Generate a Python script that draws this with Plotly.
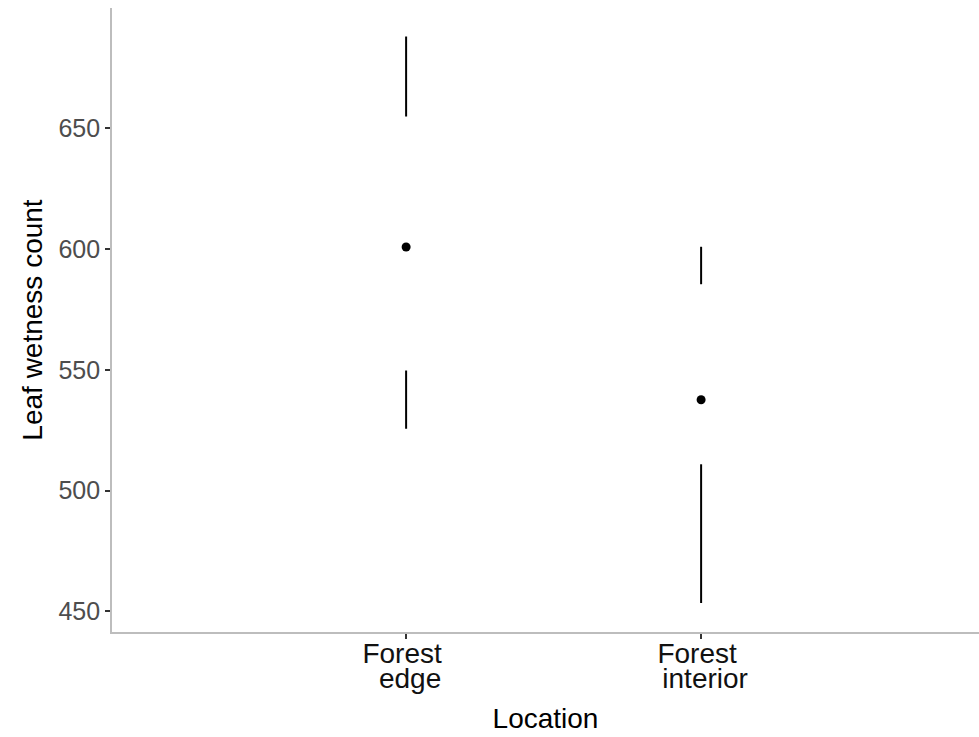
import plotly.graph_objects as go

# Leaf wetness summary per location: whisker ends, quartiles and median
locations = ["Forest edge", "Forest interior"]
whisker_low = [525.6, 453.5]
quartile_1 = [549.7, 510.9]
medians = [600.8, 537.6]
quartile_3 = [654.8, 585.4]
whisker_high = [687.9, 600.9]

y_ticks = [450, 500, 550, 600, 650]

positions = [i + 1 for i in range(len(locations))]
# category labels are split over two lines; each line lives on its own axis
first_lines = [name.split(" ", 1)[0] for name in locations]
second_lines = [name.split(" ", 1)[1] for name in locations]

fig = go.Figure()

# lower and upper whiskers drawn as plain segments (box hidden)
seg_x, seg_y = [], []
for pos, lo, q1, q3, hi in zip(positions, whisker_low, quartile_1, quartile_3, whisker_high):
    seg_x += [pos, pos, None, pos, pos, None]
    seg_y += [lo, q1, None, q3, hi, None]

fig.add_trace(go.Scatter(
    x=seg_x, y=seg_y, mode="lines",
    line=dict(color="black", width=2),
    hoverinfo="skip", showlegend=False,
))

# median points
fig.add_trace(go.Scatter(
    x=positions, y=medians, mode="markers",
    marker=dict(color="black", size=9, line=dict(width=0)),
    showlegend=False,
))

# invisible traces so the label axes are rendered
for axis_name in ("x2", "x3"):
    fig.add_trace(go.Scatter(
        x=positions, y=medians, xaxis=axis_name, mode="markers",
        marker=dict(opacity=0), hoverinfo="skip", showlegend=False,
    ))

font_family = "Liberation Sans, Arial, Helvetica, sans-serif"
x_range = [0.003, 2.942]
label_font = dict(size=28, color="#111111", family=font_family)

fig.update_layout(
    width=979, height=737,
    margin=dict(l=112, r=0, t=8, b=105),
    paper_bgcolor="white", plot_bgcolor="white",
    font=dict(family=font_family, color="black"),
    showlegend=False,
    # main axis: line and tick marks only
    xaxis=dict(
        range=x_range,
        tickmode="array", tickvals=positions, showticklabels=False,
        ticks="outside", ticklen=5, tickwidth=1.5, tickcolor="#333333",
        showline=True, linecolor="#bdbdbd", linewidth=1.8,
        showgrid=False, zeroline=False,
    ),
    # first line of the category labels
    xaxis2=dict(
        overlaying="x", anchor="y", side="bottom",
        range=x_range,
        tickmode="array", tickvals=positions, ticktext=first_lines,
        ticks="", tickfont=label_font,
        ticklabelshift=-4, ticklabelstandoff=2,
        showline=False, showgrid=False, zeroline=False,
    ),
    # second line of the category labels, plus the axis title
    xaxis3=dict(
        overlaying="x", anchor="y", side="bottom",
        range=x_range,
        tickmode="array", tickvals=positions, ticktext=second_lines,
        ticks="", tickfont=label_font,
        ticklabelshift=4, ticklabelstandoff=27,
        showline=False, showgrid=False, zeroline=False,
        title=dict(text="\u00a0\u00a0Location",
                   font=dict(size=28, color="black", family=font_family),
                   standoff=15),
    ),
    yaxis=dict(
        range=[441.5, 699.7],
        tickmode="array", tickvals=y_ticks,
        ticks="outside", ticklen=5, tickwidth=1.5, tickcolor="#333333",
        tickfont=dict(size=25, color="#4d4d4d", family=font_family),
        showline=True, linecolor="#bdbdbd", linewidth=1.8,
        showgrid=False, zeroline=False,
        title=dict(text="Leaf wetness count",
                   font=dict(size=28, color="black", family=font_family),
                   standoff=8),
    ),
)

fig.write_html("out.html")
